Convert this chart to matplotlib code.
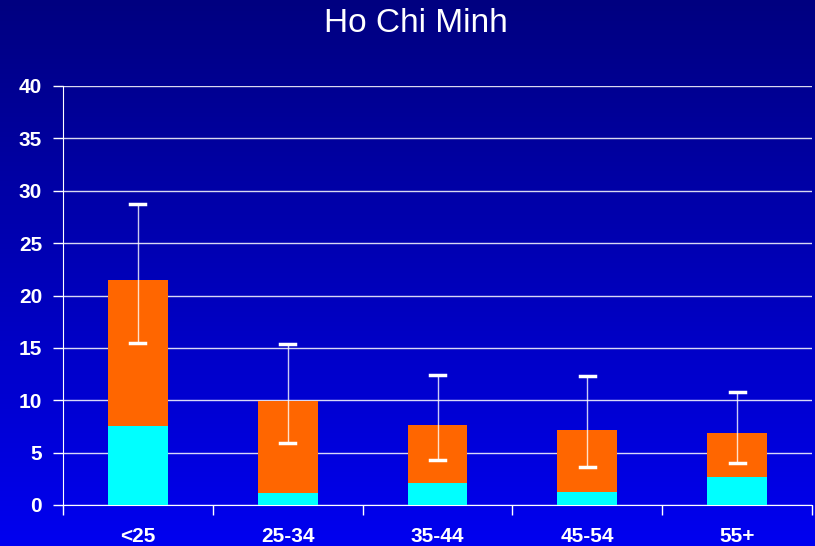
import numpy as np
import matplotlib
matplotlib.use('Agg')
import matplotlib.pyplot as plt

plt.rcParams['font.family'] = ['Liberation Sans', 'DejaVu Sans']

categories = ['<25', '25-34', '35-44', '45-54', '55+']
cyan_vals = [7.5, 1.15, 2.1, 1.25, 2.7]
orange_vals = [14.0, 8.8, 5.5, 5.9, 4.2]   # stacked on top of cyan
err_low = [15.5, 5.9, 4.3, 3.6, 4.0]
err_high = [28.7, 15.4, 12.4, 12.3, 10.8]

fig = plt.figure(figsize=(8.15, 5.46), dpi=100)

# gradient background: navy at top to bright blue at bottom
bg = fig.add_axes([0, 0, 1, 1], zorder=-1)
grad = np.linspace(0, 1, 256).reshape(-1, 1)
top = np.array([0, 0, 0x80]) / 255
bottom = np.array([0, 0, 0xF0]) / 255
img = top + (bottom - top) * grad[:, :, None]
bg.imshow(img, aspect='auto', extent=[0, 1, 0, 1])
bg.axis('off')

ax = fig.add_axes([63 / 815, 1 - 505 / 546, (812 - 63) / 815, (505 - 86) / 546])
ax.patch.set_alpha(0)

x = np.arange(len(categories))
ax.bar(x, cyan_vals, width=0.4, color='#00FFFF', zorder=3)
ax.bar(x, orange_vals, width=0.4, bottom=cyan_vals, color='#FF6600', zorder=3)

for xi, lo, hi in zip(x, err_low, err_high):
    ax.plot([xi, xi], [lo, hi], color='white', lw=1, alpha=0.8, zorder=4)
    ax.plot([xi - 0.05, xi + 0.05], [lo, lo], color='white', lw=2.5, zorder=4)
    ax.plot([xi - 0.05, xi + 0.05], [hi, hi], color='white', lw=2.5, zorder=4)

ax.set_xlim(-0.5, len(categories) - 0.5)
ax.set_ylim(0, 40)
ax.set_yticks(np.arange(0, 41, 5))
ax.yaxis.grid(True, color='white', lw=1, alpha=0.85, zorder=1)

ax.set_xticks(np.arange(-0.5, len(categories), 1))
ax.set_xticklabels([])
ax.set_xticks(x, minor=True)
ax.set_xticklabels(categories, minor=True)
ax.tick_params(axis='x', which='major', length=7, color='white', width=1)
ax.tick_params(axis='x', which='minor', length=0, pad=16, labelsize=15, labelcolor='white')
ax.tick_params(axis='y', length=7, color='white', width=1, labelsize=15, labelcolor='white', pad=8)
for lbl in ax.get_xticklabels(minor=True) + ax.get_yticklabels():
    lbl.set_fontweight('bold')

for side in ['top', 'right']:
    ax.spines[side].set_visible(False)
ax.spines['left'].set_color('white')
ax.spines['bottom'].set_color('white')

fig.text(0.51, 0.957, 'Ho Chi Minh', color='white', fontsize=24, ha='center', va='center')

plt.savefig('out.png', dpi=100)
